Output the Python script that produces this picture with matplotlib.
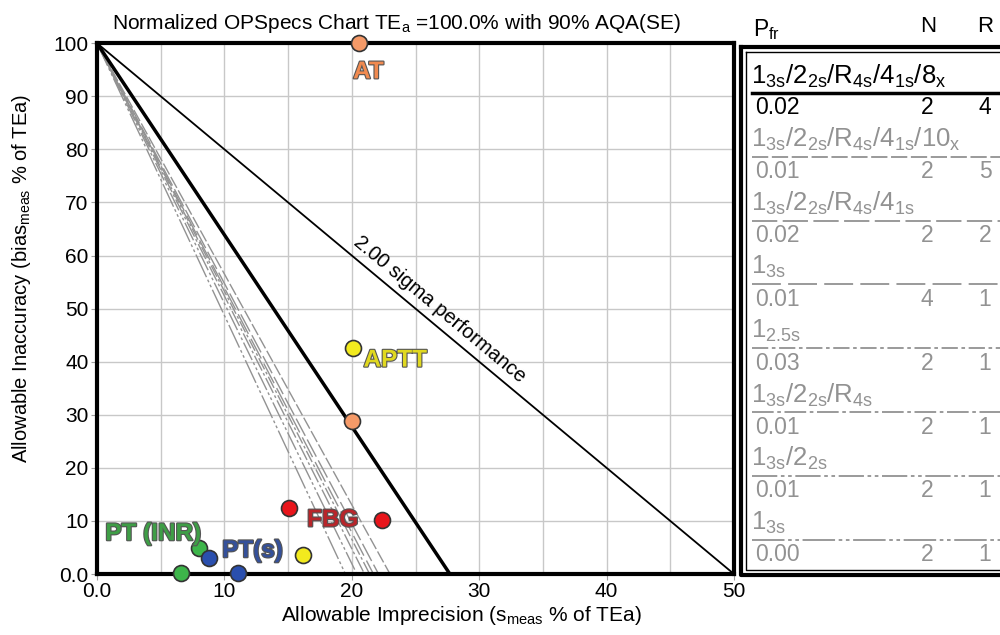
import matplotlib
matplotlib.use("Agg")
import matplotlib.pyplot as plt
import matplotlib.patheffects as pe
import numpy as np

plt.rcParams['font.family'] = ['Liberation Sans', 'DejaVu Sans']
plt.rcParams['mathtext.fontset'] = 'custom'
plt.rcParams['mathtext.rm'] = 'Liberation Sans'
plt.rcParams['mathtext.it'] = 'Liberation Sans'
plt.rcParams['mathtext.default'] = 'regular'

# ---- data ----
title = "Normalized OPSpecs Chart TE$_a$ =100.0% with 90% AQA(SE)"
xlabel = "Allowable Imprecision (s$_{meas}$ % of TEa)"
ylabel = "Allowable Inaccuracy (bias$_{meas}$ % of TEa)"

sigma_line_x = [0, 50]
sigma_line_y = [100, 0]
selected_intercept = 27.7
gray_intercepts = [23.0, 22.1, 21.7, 21.4, 21.0, 20.4, 19.5]

point_labels = ["AT", "AT", "APTT", "APTT", "FBG", "FBG", "PT (INR)", "PT (INR)", "PT(s)", "PT(s)"]
point_x = [20.6, 20.0, 20.1, 16.2, 15.1, 22.4, 8.0, 6.6, 8.8, 11.1]
point_y = [100.0, 28.8, 42.6, 3.6, 12.4, 10.2, 4.9, 0.2, 3.0, 0.2]

test_names = ["AT", "APTT", "FBG", "PT (INR)", "PT(s)"]
test_label_x = [21.3, 23.4, 18.5, 4.4, 12.2]
test_label_y = [94.6, 40.3, 10.2, 7.6, 4.4]
marker_colors = {"AT": "#F59A68", "APTT": "#F2EA1E", "FBG": "#E8151B",
                 "PT (INR)": "#3DB54A", "PT(s)": "#2A4FAE"}
text_colors = {"AT": "#F08A50", "APTT": "#E0D820", "FBG": "#B8252A",
               "PT (INR)": "#3E9E46", "PT(s)": "#34509A"}

rules = ["1$_{3s}$/2$_{2s}$/R$_{4s}$/4$_{1s}$/8$_x$",
         "1$_{3s}$/2$_{2s}$/R$_{4s}$/4$_{1s}$/10$_x$",
         "1$_{3s}$/2$_{2s}$/R$_{4s}$/4$_{1s}$",
         "1$_{3s}$",
         "1$_{2.5s}$",
         "1$_{3s}$/2$_{2s}$/R$_{4s}$",
         "1$_{3s}$/2$_{2s}$",
         "1$_{3s}$"]
pfr = ["0.02", "0.01", "0.02", "0.01", "0.03", "0.01", "0.01", "0.00"]
n_vals = ["2", "2", "2", "4", "2", "2", "2", "2"]
r_vals = ["4", "5", "2", "1", "1", "1", "1", "1"]

gray_styles = [(0, (9, 2)), (0, (14, 3)), (0, (16, 4)), (0, (9, 2, 2, 2)),
               (0, (12, 2, 2, 2)), (0, (14, 2, 2, 2, 2, 2)), (0, (18, 2, 2, 2, 2, 2))]
gray = "#929292"

# ---- figure ----
fig = plt.figure(figsize=(10, 6.35), dpi=100)
ax = fig.add_axes([0.097, 0.096, 0.637, 0.836])
ax.set_xlim(0, 50)
ax.set_ylim(0, 100)
ax.set_xticks(np.arange(0, 51, 10))
ax.set_xticklabels(["0.0", "10", "20", "30", "40", "50"])
ax.set_xticks(np.arange(0, 51, 5), minor=True)
ax.set_yticks(np.arange(0, 101, 10))
ax.set_yticklabels(["0.0"] + [str(v) for v in range(10, 101, 10)])
ax.grid(True, which='both', color="#C8C8C8", lw=1)
ax.set_axisbelow(True)
ax.tick_params(which='both', length=4, color="#A0A0A0", labelsize=15, pad=2)
ax.tick_params(which='minor', length=0)
for s in ax.spines.values():
    s.set_linewidth(3)
fig.text(0.397, 1 - 29 / 635, title, fontsize=15, ha='center', va='baseline')
fig.text(0.461, 1 - 621 / 635, xlabel, fontsize=15, ha='center', va='baseline')
fig.text(0.022, 1 - 278 / 635, ylabel, fontsize=14.5, ha='center', va='center',
         rotation=90)

for xi, st in zip(gray_intercepts, gray_styles):
    ax.plot([0, xi], [100, 0], color=gray, lw=1, ls=st, zorder=2)
ax.plot([0, selected_intercept], [100, 0], color="black", lw=2.5, zorder=3)
ax.plot(sigma_line_x, sigma_line_y, color="black", lw=1.3, zorder=3)

ang = np.degrees(np.arctan2(-(0.836 * 635), 0.637 * 1000))
ax.text(26.9, 49.8, "2.00 sigma performance", rotation=ang, rotation_mode='anchor',
        ha='center', va='center', fontsize=14.5)

for lab, x, y in zip(point_labels, point_x, point_y):
    ax.plot(x, y, 'o', ms=11.5, mfc=marker_colors[lab], mec="#333333", mew=1.2,
            zorder=5, clip_on=False)
for name, x, y in zip(test_names, test_label_x, test_label_y):
    ax.text(x, y, name, ha='center', va='center', fontsize=17.5, fontweight='bold',
            color=text_colors[name], zorder=6,
            path_effects=[pe.withStroke(linewidth=1.6, foreground="#555555")])

# ---- legend table ----
tab = fig.add_axes([0, 0, 1, 1])
tab.set_xlim(0, 1000)
tab.set_ylim(635, 0)
tab.axis('off')
tab.plot([741, 1002, 1002, 741, 741], [47, 47, 575, 575, 47], color='black', lw=3, clip_on=False)
tab.plot([746, 1002, 1002, 746, 746], [52, 52, 570, 570, 52], color='black', lw=1, clip_on=False)
tab.text(753, 30, "P$_{fr}$", fontsize=16.5, ha='left', va='center')
tab.text(928, 27, "N", fontsize=16, ha='center', va='center')
tab.text(985, 27, "R", fontsize=16, ha='center', va='center')

step = 63.8
for i, (rule, p, n, r) in enumerate(zip(rules, pfr, n_vals, r_vals)):
    col = 'black' if i == 0 else gray
    y0 = 76 + step * i
    tab.text(751, y0, rule, fontsize=18.5, color=col, ha='left', va='center')
    yl = 93 + step * i
    if i == 0:
        tab.plot([752, 1002], [yl, yl], color='black', lw=2.5)
    else:
        tab.plot([752, 1002], [yl, yl], color=gray, lw=1.3, ls=gray_styles[i - 1])
    yv = 108 + step * i
    tab.text(755, yv, p, fontsize=16.5, color=col, ha='left', va='center')
    tab.text(927, yv, n, fontsize=16.5, color=col, ha='center', va='center')
    tab.text(985, yv, r, fontsize=16.5, color=col, ha='center', va='center')

fig.savefig("out.png", dpi=100)
